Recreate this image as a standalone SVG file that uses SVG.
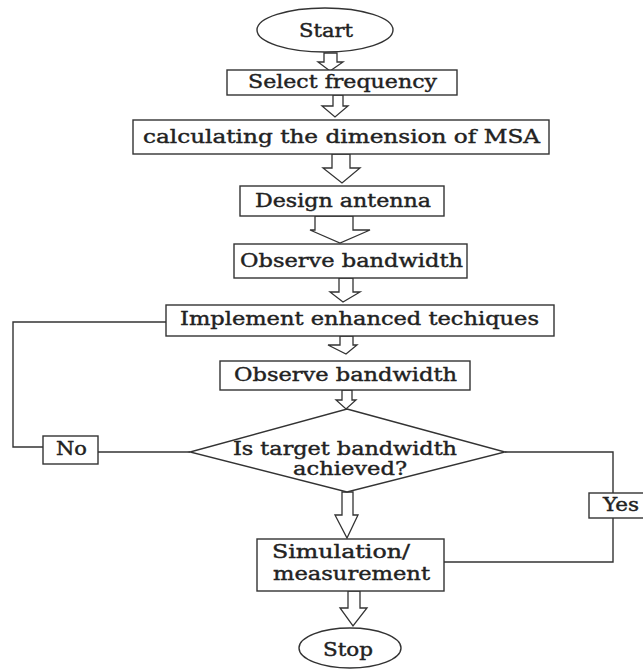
<svg xmlns="http://www.w3.org/2000/svg" width="643" height="670" viewBox="0 0 643 670">
<style>
.box{fill:#fff;stroke:#333;stroke-width:1.4}
.arr{fill:#fff;stroke:#333;stroke-width:1.3;stroke-linejoin:miter}
.ln{fill:none;stroke:#333;stroke-width:1.4}
text{font-family:"DejaVu Serif","Liberation Serif",serif;font-size:18px;fill:#222;stroke:#222;stroke-width:0.4;text-anchor:start}
</style>
<rect width="643" height="670" fill="#fff"/>
<g id="connectors">
<polygon class="arr" points="324,53 324,62 318,62 330,71 343,62 337,62 337,53"/>
<polygon class="arr" points="333,95 333,106 322,106 335,117 348,106 343,106 343,95"/>
<polygon class="arr" points="332,154 332,168 323,168 342,183 360,168 350,168 350,154"/>
<polygon class="arr" points="315,216 315,230 310,230 340,243 370,230 353,230 353,216"/>
<polygon class="arr" points="339,278 339,292 330,292 343,302 360,292 353,292 353,278"/>
<polygon class="arr" points="340,336 340,345 328,345 346,354 357,345 353,345 353,336"/>
<polygon class="arr" points="342,390 342,400 336,400 346,409 356,400 352,400 352,390"/>
<polygon class="arr" points="342,492 342,515 335,515 347,538 358,515 353,515 353,492"/>
<polygon class="arr" points="348,591 348,608 340,608 353,626 367,608 360,608 360,591"/>
<polyline class="ln" points="43,447 13,447 13,322 166,322"/>
<line class="ln" x1="98" y1="452" x2="190" y2="452"/>
<polyline class="ln" points="505,452 613,452 613,493"/>
<polyline class="ln" points="613,518 613,562 444,562"/>
</g>
<g id="start"><ellipse class="box" cx="325" cy="30" rx="68" ry="22"/><text x="299" y="37" textLength="54" lengthAdjust="spacingAndGlyphs">Start</text></g>
<g id="select"><rect class="box" x="227" y="70" width="230" height="25"/><text x="248" y="88" textLength="189" lengthAdjust="spacingAndGlyphs">Select frequency</text></g>
<g id="calc"><rect class="box" x="133" y="120" width="416" height="34"/><text x="143" y="143" textLength="397" lengthAdjust="spacingAndGlyphs">calculating the dimension of MSA</text></g>
<g id="design"><rect class="box" x="240" y="186" width="204" height="30"/><text x="255" y="207" textLength="176" lengthAdjust="spacingAndGlyphs">Design antenna</text></g>
<g id="observe1"><rect class="box" x="234" y="244" width="233" height="34"/><text x="240" y="267" textLength="223" lengthAdjust="spacingAndGlyphs">Observe bandwidth</text></g>
<g id="implement"><rect class="box" x="166" y="305" width="388" height="31"/><text x="180" y="325" textLength="359" lengthAdjust="spacingAndGlyphs">Implement enhanced techiques</text></g>
<g id="observe2"><rect class="box" x="220" y="361" width="250" height="29"/><text x="234" y="381" textLength="223" lengthAdjust="spacingAndGlyphs">Observe bandwidth</text></g>
<g id="decision"><polygon class="box" points="347,409 505,452 347,492 190,452"/><text x="233" y="455" textLength="224" lengthAdjust="spacingAndGlyphs">Is target bandwidth</text><text x="293" y="475" textLength="114" lengthAdjust="spacingAndGlyphs">achieved?</text></g>
<g id="no"><rect class="box" x="43" y="436" width="55" height="28"/><text x="56" y="455" textLength="31" lengthAdjust="spacingAndGlyphs">No</text></g>
<g id="yes"><rect class="box" x="589" y="493" width="60" height="25"/><text x="603" y="511" textLength="36" lengthAdjust="spacingAndGlyphs">Yes</text></g>
<g id="simulation"><rect class="box" x="257" y="539" width="187" height="52"/><text x="272" y="558" textLength="138" lengthAdjust="spacingAndGlyphs">Simulation/</text><text x="273" y="580" textLength="157" lengthAdjust="spacingAndGlyphs">measurement</text></g>
<g id="stop"><ellipse class="box" cx="350" cy="648" rx="51" ry="20"/><text x="323" y="656" textLength="50" lengthAdjust="spacingAndGlyphs">Stop</text></g>
</svg>
